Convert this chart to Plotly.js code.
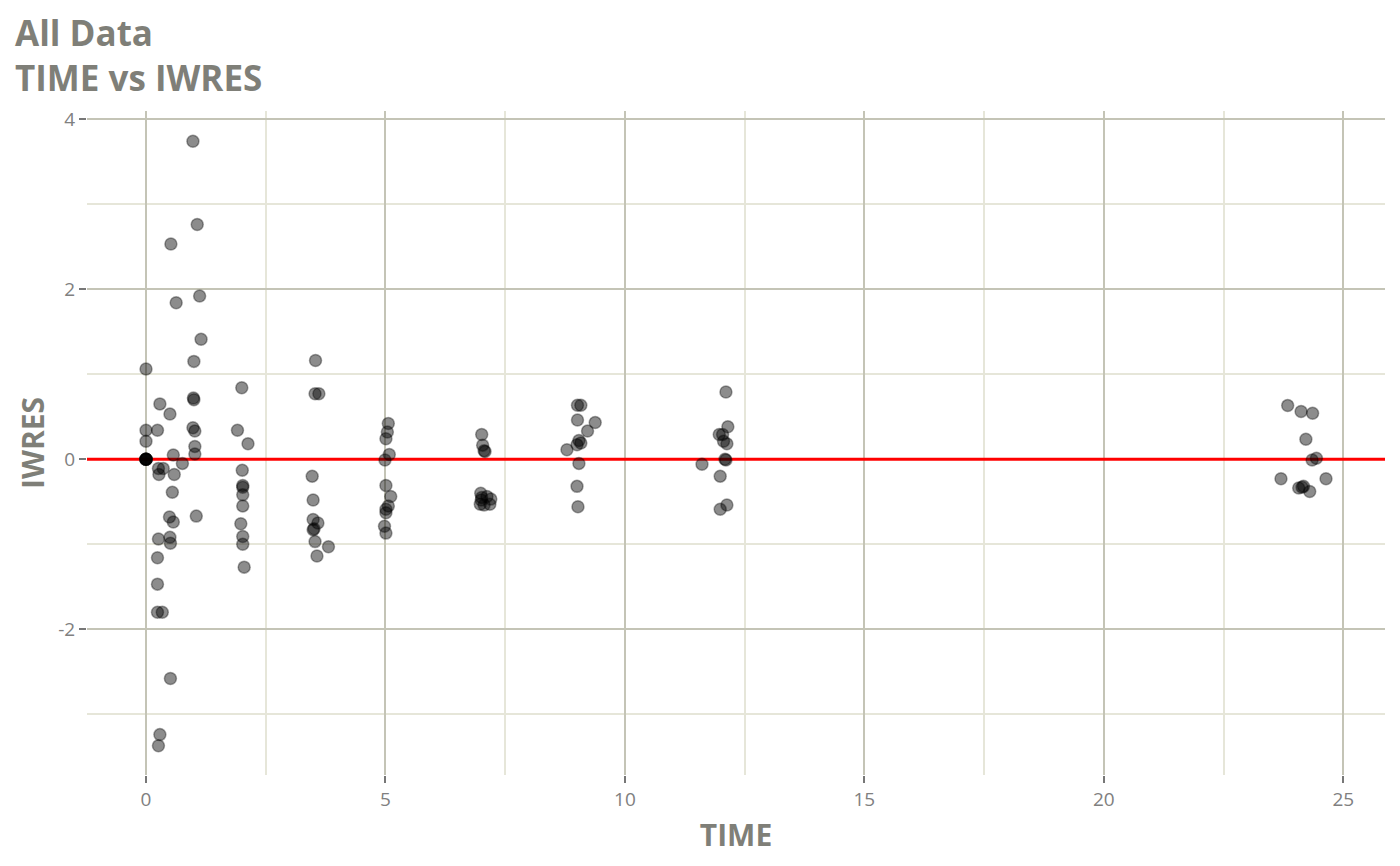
<!DOCTYPE html>
<html>
<head>
<meta charset="utf-8">
<script src="https://cdn.plot.ly/plotly-3.0.1.min.js"></script>
<style>
  html, body { margin: 0; padding: 0; background: #fff; }
  #chart { width: 1400px; height: 866px; }
</style>
</head>
<body>
<div id="chart"></div>
<script>
// observed TIME values
var time = [
  0, 0, 0, 0, 0, 0, 0, 0, 0,
  0.98, 1.07, 0.52, 1.12, 0.63, 1.15, 1.0, 0.29, 0.99, 1.0,
  0.5, 0.24, 0.98, 1.02, 1.02, 0.57, 1.02, 0.76, 0.26, 0.36,
  0.27, 0.59, 0.55, 0.49, 1.05, 0.57, 0.5, 0.51, 0.26, 0.24,
  0.24, 0.24, 0.34, 0.51, 0.29, 0.26,
  2.0, 1.91, 2.13, 2.01, 2.02, 2.02, 2.02, 2.02, 1.98, 2.02, 2.02, 2.05,
  3.54, 3.53, 3.61, 3.47, 3.49, 3.49, 3.59, 3.51, 3.49, 3.53, 3.81, 3.57,
  5.06, 5.04, 5.01, 5.08, 4.99, 5.01, 5.11, 5.06, 5.01, 5.01, 4.98, 5.01,
  7.01, 7.03, 7.06, 7.08, 6.99, 7.12, 7.01, 7.2, 6.98, 7.06, 7.18, 7.0,
  9.01, 9.08, 9.01, 9.38, 9.22, 9.04, 9.08, 9.0, 8.79, 9.04, 9.0, 9.02,
  12.11, 12.15, 11.97, 12.04, 12.06, 12.13, 12.09, 12.11, 11.61, 11.99, 12.13, 11.99,
  23.84, 24.12, 24.36, 24.22, 24.35, 24.44, 23.7, 24.64, 24.07, 24.14, 24.17, 24.3
];

// individual weighted residuals
var iwres = [
  1.06, 0.34, 0.21, 0, 0, 0, 0, 0, 0,
  3.74, 2.76, 2.53, 1.92, 1.84, 1.41, 1.15, 0.65, 0.72, 0.70,
  0.53, 0.34, 0.37, 0.33, 0.15, 0.05, 0.06, -0.05, -0.11, -0.11,
  -0.18, -0.18, -0.39, -0.68, -0.67, -0.74, -0.92, -0.99, -0.94, -1.16,
  -1.47, -1.80, -1.80, -2.58, -3.24, -3.37,
  0.84, 0.34, 0.18, -0.13, -0.31, -0.33, -0.42, -0.55, -0.76, -0.91, -1.0, -1.27,
  1.16, 0.77, 0.77, -0.2, -0.48, -0.71, -0.75, -0.82, -0.83, -0.97, -1.03, -1.14,
  0.42, 0.32, 0.24, 0.055, -0.01, -0.31, -0.44, -0.55, -0.59, -0.63, -0.79, -0.87,
  0.29, 0.165, 0.10, 0.09, -0.40, -0.44, -0.45, -0.47, -0.53, -0.54, -0.53, -0.48,
  0.635, 0.635, 0.46, 0.43, 0.33, 0.22, 0.19, 0.17, 0.11, -0.05, -0.32, -0.56,
  0.79, 0.38, 0.29, 0.29, 0.21, 0.18, 0.0, -0.01, -0.06, -0.2, -0.54, -0.59,
  0.63, 0.56, 0.54, 0.235, -0.01, 0.01, -0.23, -0.23, -0.34, -0.33, -0.32, -0.38
];

var xTicks = [0, 5, 10, 15, 20, 25];
var yTicks = [-2, 0, 2, 4];
var xRange = [-1.232, 25.872];
var yRange = [-3.715, 4.095];
var refLevel = 0; // red reference line

var txtGrey = '#7f7f78';
var majorGrid = '#c4c4b6';
var minorGrid = '#e6e6d9';

// reference line first so the points sit on top of it
var refLine = {
  x: xRange,
  y: [refLevel, refLevel],
  type: 'scatter',
  mode: 'lines',
  hoverinfo: 'skip',
  line: { color: '#ff0000', width: 3 }
};

var points = {
  x: time,
  y: iwres,
  type: 'scatter',
  mode: 'markers',
  hoverinfo: 'x+y',
  marker: {
    size: 12,
    color: 'rgba(0,0,0,0.45)',
    line: { color: 'rgba(0,0,0,0.35)', width: 1.5 }
  }
};

var layout = {
  width: 1400,
  height: 866,
  paper_bgcolor: '#ffffff',
  plot_bgcolor: '#ffffff',
  showlegend: false,
  margin: { l: 87, r: 15, t: 111, b: 91 },
  font: { family: 'Open Sans, Noto Sans, sans-serif', color: txtGrey },
  title: {
    text: 'All Data<br>TIME vs IWRES',
    x: 15 / 1400,
    xref: 'container',
    xanchor: 'left',
    y: 0.947,
    yref: 'container',
    yanchor: 'top',
    font: { size: 35, color: txtGrey, family: 'Open Sans, sans-serif', weight: 'bold' }
  },
  xaxis: {
    range: xRange,
    tickvals: xTicks,
    ticktext: xTicks.map(String),
    showgrid: true,
    gridcolor: majorGrid,
    gridwidth: 2,
    zeroline: false,
    showline: false,
    ticks: 'outside',
    ticklen: 7,
    tickwidth: 2,
    tickcolor: '#777777',
    tickfont: { size: 19, color: '#808080' },
    minor: { dtick: 2.5, tick0: 0, showgrid: true, gridcolor: minorGrid, gridwidth: 2, ticks: '' },
    title: { text: 'TIME', font: { size: 30, color: txtGrey, weight: 'bold' }, standoff: 14 }
  },
  yaxis: {
    range: yRange,
    tickvals: yTicks,
    ticktext: yTicks.map(String),
    showgrid: true,
    gridcolor: majorGrid,
    gridwidth: 2,
    zeroline: false,
    showline: false,
    ticks: 'outside',
    ticklen: 7,
    tickwidth: 2,
    tickcolor: '#777777',
    tickfont: { size: 19, color: '#808080' },
    minor: { dtick: 1, tick0: 1, showgrid: true, gridcolor: minorGrid, gridwidth: 2, ticks: '' },
    title: { text: 'IWRES', font: { size: 30, color: txtGrey, weight: 'bold' }, standoff: 4 }
  }
};

Plotly.newPlot('chart', [refLine, points], layout, { displayModeBar: false });
</script>
</body>
</html>
